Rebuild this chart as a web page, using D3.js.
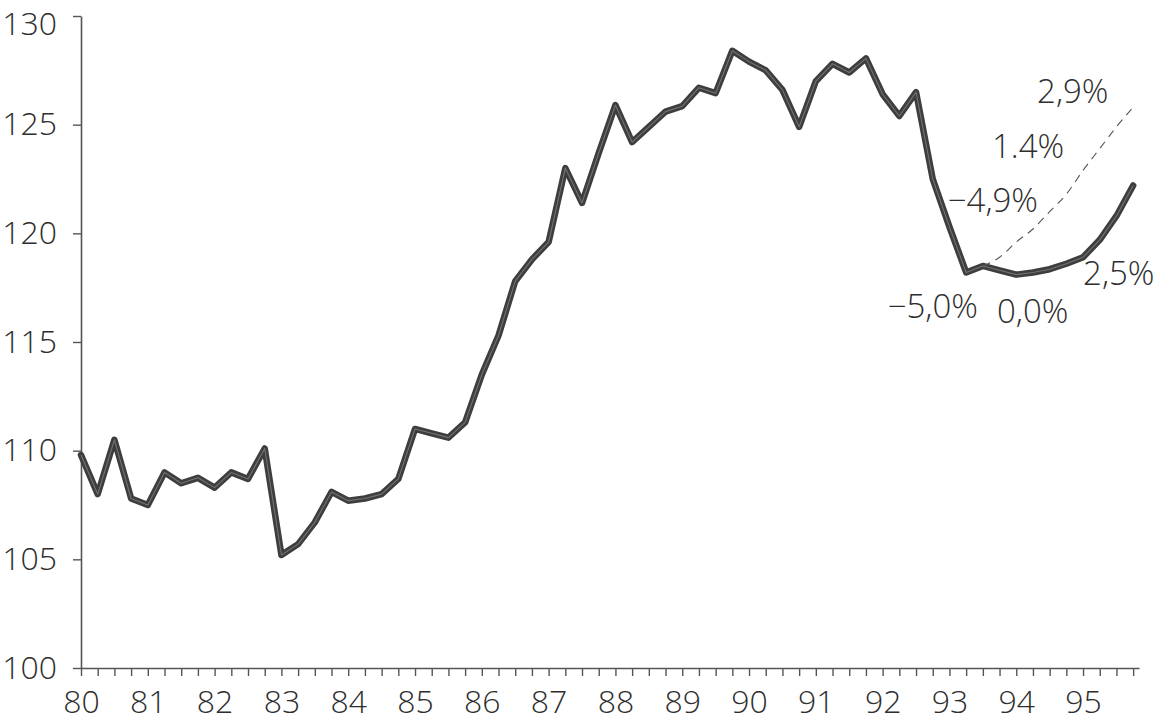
<!DOCTYPE html>
<html>
<head>
<meta charset="utf-8">
<script src="https://cdn.jsdelivr.net/npm/d3@7"></script>
<style>
  html, body { margin: 0; padding: 0; background: #fff; }
  svg text { font-family: "Open Sans", "DejaVu Sans", sans-serif; font-weight: 300; fill: #2e2e2e; }
</style>
</head>
<body>
<svg id="chart" width="1160" height="723"></svg>
<script>
// ---- data ----
const years = ["80","81","82","83","84","85","86","87","88","89","90","91","92","93","94","95"];
// quarterly index values, 1980Q1 .. 1995Q4
const values = [
  109.8, 108.0, 110.5, 107.8,
  107.5, 109.0, 108.5, 108.75,
  108.3, 109.0, 108.7, 110.1,
  105.2, 105.7, 106.7, 108.1,
  107.7, 107.8, 108.0, 108.7,
  111.0, 110.8, 110.6, 111.3,
  113.5, 115.3, 117.8, 118.8,
  119.6, 123.0, 121.4, 123.7,
  125.9, 124.2, 124.9, 125.6,
  125.85, 126.7, 126.45, 128.4,
  127.9, 127.5, 126.6, 124.9,
  127.0, 127.8, 127.4, 128.05,
  126.4, 125.4, 126.5, 122.5,
  120.3, 118.2, 118.5, 118.3,
  118.1, 118.2, 118.35, 118.6,
  118.9, 119.7, 120.8, 122.2
];
// alternative (dashed) path, starting at quarter index 54
const altStart = 54;
const altValues = [118.5, 118.9, 119.6, 120.2, 121.0, 121.8, 122.9, 123.9, 124.9, 125.8];
const yTicks = [100, 105, 110, 115, 120, 125, 130];
// growth-rate annotations: text, quarter index, value at baseline
const annText = ["2,9%", "1.4%", "\u22124,9%", "\u22125,0%", "0,0%", "2,5%"];
const annQ    = [57.25, 54.55, 51.9, 48.3, 54.85, 60.0];
const annV    = [126.0, 123.47, 120.98, 116.1, 115.87, 117.62];

// ---- scales ----
const svg = d3.select("#chart");
const x = d3.scaleLinear().domain([0, 63.35]).range([81, 1139]);
const y = d3.scaleLinear().domain([100, 130]).range([668, 16]);
const FS = 33;

// ---- axes ----
const xAxis = d3.axisBottom(x)
  .tickValues(d3.range(0, 64))
  .tickSize(8).tickSizeOuter(0).tickPadding(14)
  .tickFormat(d => d % 4 === 0 ? years[d / 4] : "");
const gx = svg.append("g").attr("transform", `translate(0,${y(100)})`).call(xAxis);
gx.selectAll("text").style("font-size", "32px");

const yAxis = d3.axisLeft(y)
  .tickValues(yTicks)
  .tickSize(8).tickSizeOuter(0).tickPadding(16)
  .tickFormat(d3.format("d"));
const gy = svg.append("g").attr("transform", `translate(${x(0)},0)`).call(yAxis);
gy.selectAll("text").style("font-size", "32px");
// keep the topmost label inside the picture
gy.selectAll(".tick").filter(d => d === d3.max(yTicks)).select("text").attr("y", 8);

[gx, gy].forEach(g => {
  g.select(".domain").attr("stroke", "#555").attr("stroke-width", 1.6);
  g.selectAll(".tick line").attr("stroke", "#555").attr("stroke-width", 1.4);
});

// ---- lines ----
const line = d3.line().x((d, i) => x(i)).y(d => y(d));
svg.append("path").datum(values)
  .attr("d", line).attr("fill", "none")
  .attr("stroke", "#3e3e3e").attr("stroke-width", 6.5)
  .attr("stroke-linejoin", "round").attr("stroke-linecap", "round");
svg.append("path").datum(values)
  .attr("d", line).attr("fill", "none")
  .attr("stroke", "#8a8a8a").attr("stroke-width", 1.1).attr("opacity", 0.7)
  .attr("stroke-linejoin", "round");

const altLine = d3.line().x((d, i) => x(altStart + i)).y(d => y(d)).curve(d3.curveMonotoneX);
svg.append("path").datum(altValues)
  .attr("d", altLine).attr("fill", "none")
  .attr("stroke", "#555").attr("stroke-width", 1.1)
  .attr("stroke-dasharray", "8,6");

// ---- annotations ----
svg.append("g").selectAll("text").data(annText).join("text")
  .attr("x", (d, i) => x(annQ[i]))
  .attr("y", (d, i) => y(annV[i]))
  .style("font-size", FS + "px")
  .text(d => d);
</script>
</body>
</html>
